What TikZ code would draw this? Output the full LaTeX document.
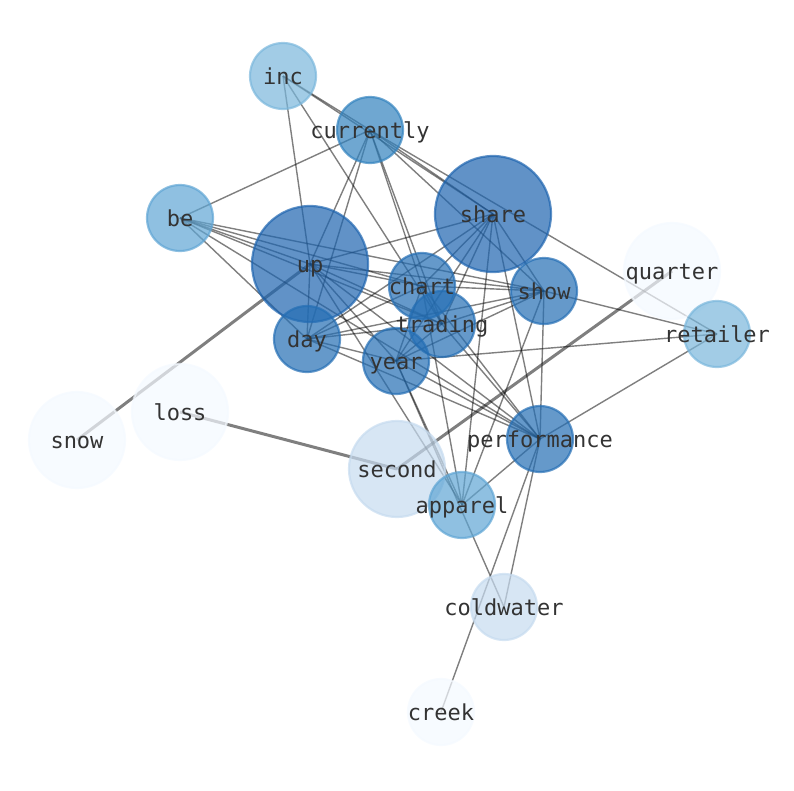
\documentclass[tikz,border=0pt]{standalone}
\usepackage{fontspec}
\setmonofont{DejaVu Sans Mono}
\definecolor{cA}{RGB}{30,100,175}
\definecolor{cB}{RGB}{36,110,180}
\definecolor{cC}{RGB}{50,130,190}
\definecolor{cD}{RGB}{95,165,212}
\definecolor{cE}{RGB}{122,183,220}
\definecolor{cF}{RGB}{198,219,239}
\definecolor{cG}{RGB}{244,249,255}
\begin{document}
\begin{tikzpicture}[x=1pt,y=-1pt,
  edge/.style={draw=black,draw opacity=0.5,line width=1.4pt},
  heavy/.style={draw=black,draw opacity=0.5,line width=3pt},
  bubble/.style={circle,inner sep=0pt,fill opacity=0.7,draw opacity=0.7,line width=2.2pt},
  big/.style={bubble,minimum size=116pt},
  mid/.style={bubble,minimum size=96pt},
  small/.style={bubble,minimum size=66pt},
  lbl/.style={font=\ttfamily\fontsize{22}{22}\selectfont,text=black!80,inner sep=0pt,
    text height=17pt,text depth=1pt}]
\useasboundingbox (0,0) rectangle (794,790);
% positions
\coordinate (inc) at (283,76);
\coordinate (currently) at (370,130);
\coordinate (be) at (180,218);
\coordinate (share) at (493,214);
\coordinate (up) at (310,264);
\coordinate (quarter) at (672,271);
\coordinate (chart) at (422,286);
\coordinate (show) at (544,291);
\coordinate (retailer) at (717,334);
\coordinate (trading) at (442,324);
\coordinate (day) at (307,339);
\coordinate (year) at (396,361);
\coordinate (loss) at (180,412);
\coordinate (snow) at (77,440);
\coordinate (performance) at (540,439);
\coordinate (second) at (397,469);
\coordinate (apparel) at (462,505);
\coordinate (coldwater) at (504,607);
\coordinate (creek) at (441,712);
% thin edges
\foreach \a/\b in {inc/currently,inc/share,inc/up,inc/trading,
  currently/be,currently/share,currently/up,currently/day,currently/chart,
  currently/trading,currently/retailer,currently/show,
  be/up,be/chart,be/trading,be/show,be/day,be/performance,
  share/up,share/chart,share/trading,share/day,share/year,share/show,
  share/performance,share/apparel,
  up/chart,up/trading,up/show,up/day,up/year,up/performance,up/apparel,
  chart/show,chart/trading,chart/year,chart/day,chart/performance,chart/apparel,
  trading/show,trading/day,trading/year,trading/performance,
  show/day,show/year,show/performance,show/apparel,show/retailer,
  day/year,day/performance,
  year/performance,year/apparel,year/coldwater,year/retailer,
  performance/retailer,performance/apparel,performance/coldwater,performance/creek}
  {\draw[edge] (\a) -- (\b);}
% heavy edges
\draw[heavy] (snow) -- (up);
\draw[heavy] (loss) -- (second);
\draw[heavy] (second) -- (quarter);
% bubbles
\node[small,fill=cE,draw=cE] (inc-n) at (inc) {};
\node[small,fill=cC,draw=cC] (currently-n) at (currently) {};
\node[small,fill=cD,draw=cD] (be-n) at (be) {};
\node[big,fill=cA,draw=cA] (share-n) at (share) {};
\node[big,fill=cA,draw=cA] (up-n) at (up) {};
\node[mid,fill=cG,draw=cG] (quarter-n) at (quarter) {};
\node[small,fill=cB,draw=cB] (chart-n) at (chart) {};
\node[small,fill=cB,draw=cB] (show-n) at (show) {};
\node[small,fill=cE,draw=cE] (retailer-n) at (retailer) {};
\node[small,fill=cB,draw=cB] (trading-n) at (trading) {};
\node[small,fill=cB,draw=cB] (day-n) at (day) {};
\node[small,fill=cB,draw=cB] (year-n) at (year) {};
\node[mid,fill=cG,draw=cG] (loss-n) at (loss) {};
\node[mid,fill=cG,draw=cG] (snow-n) at (snow) {};
\node[small,fill=cB,draw=cB] (performance-n) at (performance) {};
\node[mid,fill=cF,draw=cF] (second-n) at (second) {};
\node[small,fill=cD,draw=cD] (apparel-n) at (apparel) {};
\node[small,fill=cF,draw=cF] (coldwater-n) at (coldwater) {};
\node[small,fill=cG,draw=cG] (creek-n) at (creek) {};
% labels
\foreach \n in {inc,currently,be,share,up,quarter,chart,show,retailer,trading,
  day,year,loss,snow,performance,second,apparel,coldwater,creek}
  {\node[lbl] (\n-l) at (\n) {\n};}
\end{tikzpicture}
\end{document}
